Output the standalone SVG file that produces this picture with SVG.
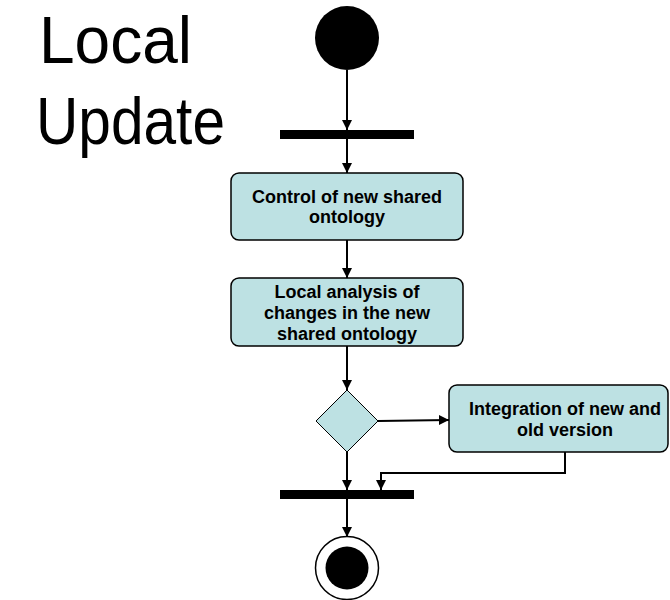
<svg xmlns="http://www.w3.org/2000/svg" width="670" height="600" viewBox="0 0 670 600">
<defs>
<style>
.act{fill:#bde1e3;stroke:#000;stroke-width:1.5}
.t{font-family:"Liberation Sans",Arial,sans-serif;font-weight:bold;font-size:18px;fill:#000;text-anchor:middle}
.title{font-family:"Liberation Sans",Arial,sans-serif;font-size:66px;fill:#000}
.ln{fill:none;stroke:#000;stroke-width:2}
.hd{fill:#000}
.bar{fill:#000}
</style>
</defs>
<rect width="670" height="600" fill="#fff"/>
<g id="title">
<text class="title" x="39" y="63" textLength="153" lengthAdjust="spacingAndGlyphs">Local</text>
<text class="title" x="36" y="144" textLength="189" lengthAdjust="spacingAndGlyphs">Update</text>
</g>
<g id="connectors">
<path class="ln" d="M347,70 V130"/>
<path class="hd" d="M342,120 L347,130 L352,120 z"/>
<path class="ln" d="M347,139 V173"/>
<path class="hd" d="M342,163 L347,173 L352,163 z"/>
<path class="ln" d="M347,240 V278"/>
<path class="hd" d="M342,268 L347,278 L352,268 z"/>
<path class="ln" d="M347,346 V390"/>
<path class="hd" d="M342,380 L347,390 L352,380 z"/>
<path class="ln" d="M378,421 L449,420"/>
<path class="hd" d="M439,415 L449,420 L439,425 z"/>
<path class="ln" d="M565,452 V473 H381 V490"/>
<path class="hd" d="M376,480 L381,490 L386,480 z"/>
<path class="ln" d="M347,452 V490"/>
<path class="hd" d="M342,480 L347,490 L352,480 z"/>
<path class="ln" d="M347,499 V537"/>
<path class="hd" d="M342,527 L347,537 L352,527 z"/>
</g>
<g id="start">
<circle cx="347" cy="38" r="32" fill="#000"/>
</g>
<g id="fork1">
<rect class="bar" x="280" y="130" width="134" height="9"/>
</g>
<g id="control">
<rect class="act" x="231" y="173" width="232" height="67" rx="8"/>
<text class="t" x="347" y="203">Control of new shared</text>
<text class="t" x="347" y="223">ontology</text>
</g>
<g id="analysis">
<rect class="act" x="231" y="278" width="232" height="68" rx="8"/>
<text class="t" x="347" y="298">Local analysis of</text>
<text class="t" x="347" y="319">changes in the new</text>
<text class="t" x="347" y="340">shared ontology</text>
</g>
<g id="decision">
<polygon class="act" style="stroke-width:1" points="347,390 378,421 347,452 316,421"/>
</g>
<g id="integration">
<rect class="act" x="449" y="385" width="219" height="67" rx="8"/>
<text class="t" x="565" y="415">Integration of new and</text>
<text class="t" x="565" y="436">old version</text>
</g>
<g id="join">
<rect class="bar" x="280" y="490" width="134" height="9"/>
</g>
<g id="end">
<circle cx="347" cy="568" r="31.5" fill="#fff" stroke="#000" stroke-width="1.5"/>
<circle cx="347" cy="568" r="21.5" fill="#000"/>
</g>
</svg>
